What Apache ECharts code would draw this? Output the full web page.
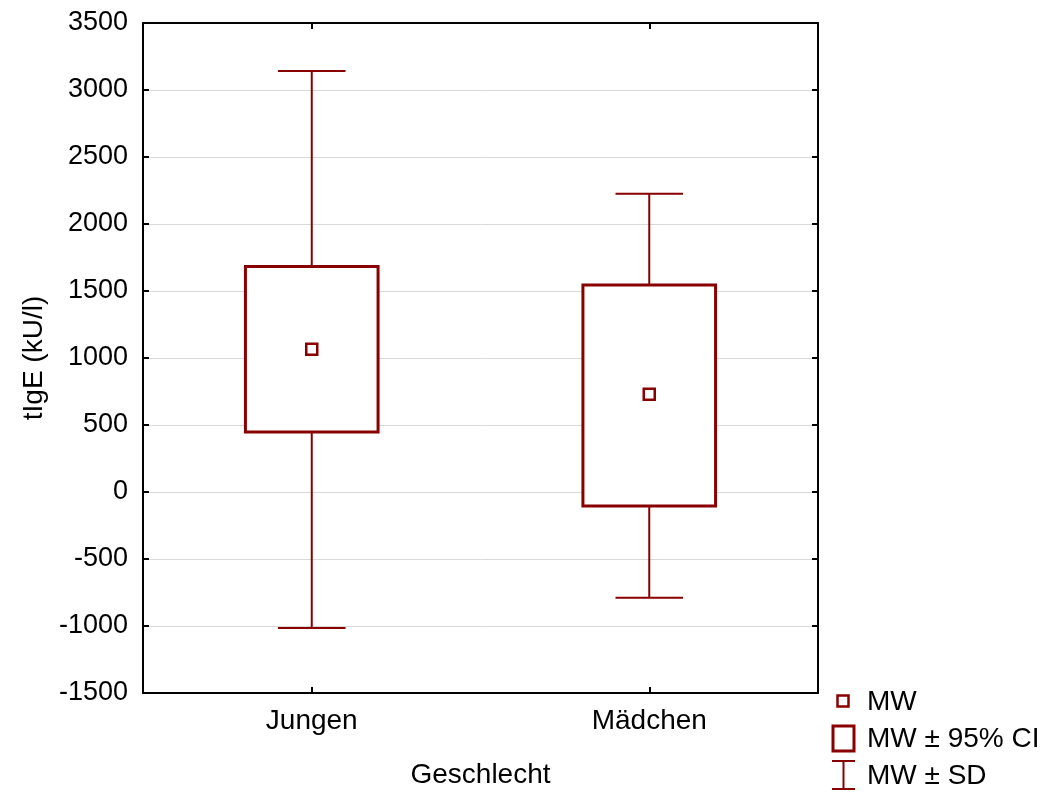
<!DOCTYPE html>
<html>
<head>
<meta charset="utf-8">
<script src="https://cdn.jsdelivr.net/npm/echarts@6/dist/echarts.min.js"></script>
<style>html,body{margin:0;padding:0;background:#fff}#c{width:1054px;height:794px}</style>
</head>
<body>
<div id="c"></div>
<script>
const categories = ['Jungen', 'Mädchen'];
const means = [1066, 730];
const ciLow = [447, -104];
const ciHigh = [1682, 1545];
const sdLow = [-1015, -790];
const sdHigh = [3142, 2226];
const yTicks = { min: -1500, max: 3500, interval: 500 };
const legendLabels = ['MW', 'MW ± 95% CI', 'MW ± SD'];

const RED = '#880000';
const FONT = 'Liberation Sans, Arial, sans-serif';
const data = categories.map((c, i) => [i, means[i], ciLow[i], ciHigh[i], sdLow[i], sdHigh[i]]);

const chart = echarts.init(document.getElementById('c'));
const axisLine = { show: true, onZero: false, lineStyle: { color: '#000', width: 2 } };
const tick = { show: true, inside: true, length: 6, lineStyle: { color: '#000', width: 2 } };

chart.setOption({
  animation: false,
  backgroundColor: '#fff',
  grid: { left: 143, top: 23, right: 236, bottom: 100 },
  xAxis: [{
    type: 'category', data: categories, position: 'bottom',
    axisLine, axisTick: Object.assign({ alignWithLabel: true }, tick),
    axisLabel: { color: '#000', fontSize: 28, fontFamily: FONT, margin: 14 },
    name: 'Geschlecht', nameLocation: 'middle', nameGap: 68,
    nameTextStyle: { color: '#000', fontSize: 28, fontFamily: FONT },
    splitLine: { show: false }
  }, {
    type: 'category', data: categories, position: 'top',
    axisLine, axisTick: Object.assign({ alignWithLabel: true }, tick),
    axisLabel: { show: false }, splitLine: { show: false }
  }],
  yAxis: [{
    type: 'value', min: yTicks.min, max: yTicks.max, interval: yTicks.interval, position: 'left',
    axisLine, axisTick: tick,
    axisLabel: { color: '#000', fontSize: 27, fontFamily: FONT, margin: 15, formatter: v => String(v) },
    splitLine: { show: true, lineStyle: { color: '#d9d9d9', width: 1 } },
    name: 'tIgE (kU/l)', nameLocation: 'middle', nameGap: 91,
    nameTextStyle: { color: '#000', fontSize: 28, fontFamily: FONT }
  }, {
    type: 'value', min: yTicks.min, max: yTicks.max, interval: yTicks.interval, position: 'right',
    axisLine, axisTick: tick, axisLabel: { show: false }, splitLine: { show: false }
  }],
  series: [{
    type: 'custom',
    data: data,
    encode: { x: 0, y: [1, 2, 3, 4, 5] },
    renderItem: function (params, api) {
      const idx = api.value(0);
      const band = api.size([1, 0])[0];
      const pMean = api.coord([idx, api.value(1)]);
      const pCiL = api.coord([idx, api.value(2)]);
      const pCiH = api.coord([idx, api.value(3)]);
      const pSdL = api.coord([idx, api.value(4)]);
      const pSdH = api.coord([idx, api.value(5)]);
      const cx = pMean[0];
      const bw = band * 0.393;
      const cw = band * 0.2;
      const ms = 11;
      const lineStyle = { stroke: RED, lineWidth: 2, fill: null };
      return {
        type: 'group',
        children: [
          { type: 'line', shape: { x1: cx, y1: pSdH[1], x2: cx, y2: pCiH[1] }, style: lineStyle },
          { type: 'line', shape: { x1: cx - cw / 2, y1: pSdH[1], x2: cx + cw / 2, y2: pSdH[1] }, style: lineStyle },
          { type: 'line', shape: { x1: cx, y1: pCiL[1], x2: cx, y2: pSdL[1] }, style: lineStyle },
          { type: 'line', shape: { x1: cx - cw / 2, y1: pSdL[1], x2: cx + cw / 2, y2: pSdL[1] }, style: lineStyle },
          { type: 'rect', shape: { x: cx - bw / 2, y: pCiH[1], width: bw, height: pCiL[1] - pCiH[1] },
            style: { stroke: RED, lineWidth: 3, fill: '#fff' } },
          { type: 'rect', shape: { x: pMean[0] - ms / 2, y: pMean[1] - ms / 2, width: ms, height: ms },
            style: { stroke: RED, lineWidth: 2.5, fill: '#fff' } }
        ]
      };
    }
  }],
  graphic: [
    { type: 'rect', shape: { x: 837.5, y: 695.5, width: 11, height: 11 }, style: { stroke: RED, lineWidth: 2.5, fill: '#fff' } },
    { type: 'text', left: 867, top: 688, style: { text: legendLabels[0], font: '28px ' + FONT, fill: '#000' } },
    { type: 'rect', shape: { x: 833, y: 726, width: 21, height: 25 }, style: { stroke: RED, lineWidth: 3, fill: '#fff' } },
    { type: 'text', left: 867, top: 725, style: { text: legendLabels[1], font: '28px ' + FONT, fill: '#000' } },
    { type: 'line', shape: { x1: 843.5, y1: 761, x2: 843.5, y2: 789 }, style: { stroke: RED, lineWidth: 2 } },
    { type: 'line', shape: { x1: 832, y1: 761, x2: 855, y2: 761 }, style: { stroke: RED, lineWidth: 2 } },
    { type: 'line', shape: { x1: 832, y1: 789, x2: 855, y2: 789 }, style: { stroke: RED, lineWidth: 2 } },
    { type: 'text', left: 867, top: 762, style: { text: legendLabels[2], font: '28px ' + FONT, fill: '#000' } }
  ]
});
</script>
</body>
</html>
